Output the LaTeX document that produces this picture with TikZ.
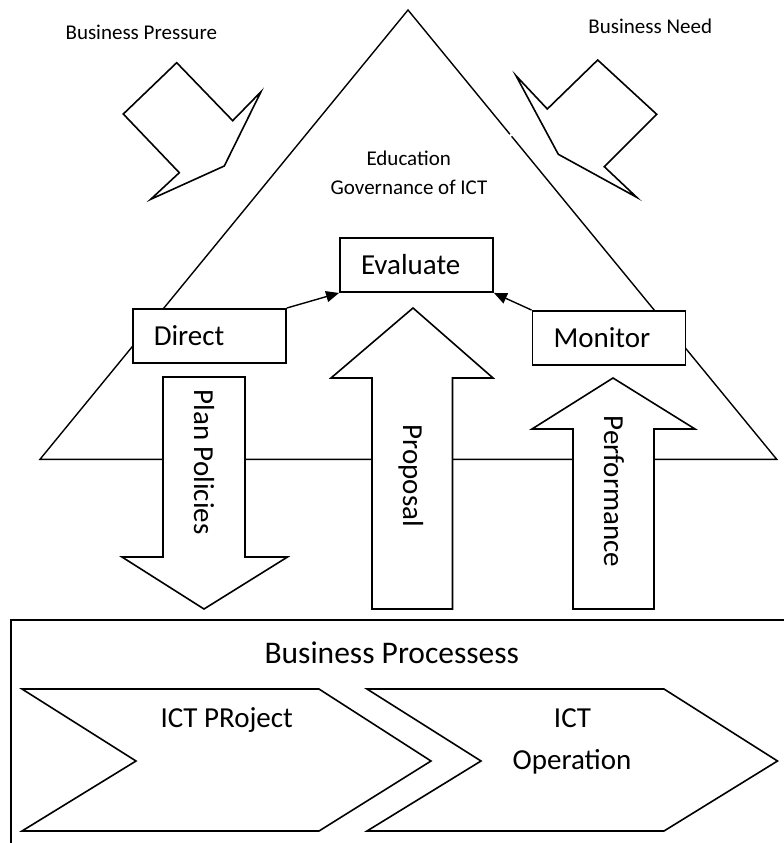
\documentclass[tikz,border=0pt]{standalone}
\usepackage{fontspec}
\setmainfont{Carlito}
\usetikzlibrary{arrows.meta}
\begin{document}
\begin{tikzpicture}[x=1pt,y=-1pt,
  shapeline/.style={draw=black, line width=1.6pt, line join=miter, fill=white},
  thinline/.style={draw=black, line width=1.4pt, line join=miter},
  boxnode/.style={draw=black, line width=1.9pt, fill=white, minimum height=54pt,
    text width=111pt, inner xsep=21pt, inner ysep=0pt, align=left,
    font=\fontsize{29}{34}\selectfont},
  smalllabel/.style={font=\fontsize{21}{29}\selectfont, inner sep=0pt},
  biglabel/.style={font=\fontsize{29}{42}\selectfont, inner sep=0pt},
  link/.style={line width=1.4pt, -{Triangle[length=13pt,width=11pt]}}]
\useasboundingbox (0,0) rectangle (784,843);

% governance triangle
\draw[thinline] (509.9,134.2) -- (408,10) -- (40,459.3) -- (776.7,459.3) -- (511.6,136.3);

% pressure / need arrows
\draw[shapeline] (176.7,62.7) -- (123.3,114) -- (179.3,172.7) -- (150.7,199.3)
  -- (224.3,166) -- (261,91.7) -- (232.7,120.7) -- cycle;
\draw[shapeline] (597.7,60) -- (656.7,114.3) -- (604.3,166.7) -- (636.7,197.3)
  -- (558.3,154.3) -- (516,75.7) -- (547.3,109) -- cycle;

% block arrows
\draw[shapeline] (163,377) -- (245,377) -- (245,557) -- (287.5,557) -- (204,609)
  -- (122,557) -- (163,557) -- cycle;
\draw[shapeline] (413,308) -- (493,378) -- (452.5,378) -- (452.5,609) -- (372,609)
  -- (372,378) -- (331,378) -- cycle;
\draw[shapeline] (613,378) -- (695,429) -- (654,429) -- (654,609) -- (573,609)
  -- (573,429) -- (532,429) -- cycle;

\node[biglabel, rotate=-90, anchor=base] (plan) at (194,462) {Plan Policies};
\node[biglabel, rotate=-90, anchor=base] (prop) at (403,476) {Proposal};
\node[biglabel, rotate=-90, anchor=base] (perf) at (604,491.5) {Performance};

% labels
\node[smalllabel, anchor=base] (press) at (141.3,39.3) {Business Pressure};
\node[smalllabel, anchor=base] (need) at (650.3,33.3) {Business Need};
\node[smalllabel, anchor=base] (edu) at (408.7,165.7) {Education};
\node[smalllabel, anchor=base] (gov) at (409,194) {Governance of ICT};

% boxes
\node[boxnode] (eval) at (416.5,265) {Evaluate};
\node[boxnode] (direct) at (209.25,336) {Direct};
\node[boxnode] (monitor) at (609,338) {Monitor};

\draw[link] (direct.north east) -- (eval.south west);
\draw[link] (monitor.north west) -- (eval.south east);

% business processes
\draw[line width=2.2pt] (11,620) rectangle (800,860);
\node[font=\fontsize{31.5}{36}\selectfont, anchor=base, inner sep=0pt] (bp) at (391.8,663.3) {Business Processess};

\draw[shapeline] (22,689) -- (319,689) -- (431,761) -- (319,831) -- (22,831) -- (136,761) -- cycle;
\draw[shapeline] (367,689) -- (664,689) -- (777.5,761) -- (664,831) -- (367,831) -- (481,761) -- cycle;

\node[biglabel, anchor=base] (proj) at (226.7,727.3) {ICT PRoject};
\node[biglabel, anchor=base] (ict) at (572.5,727) {ICT};
\node[biglabel, anchor=base] (op) at (572,769) {Operation};
\end{tikzpicture}
\end{document}
